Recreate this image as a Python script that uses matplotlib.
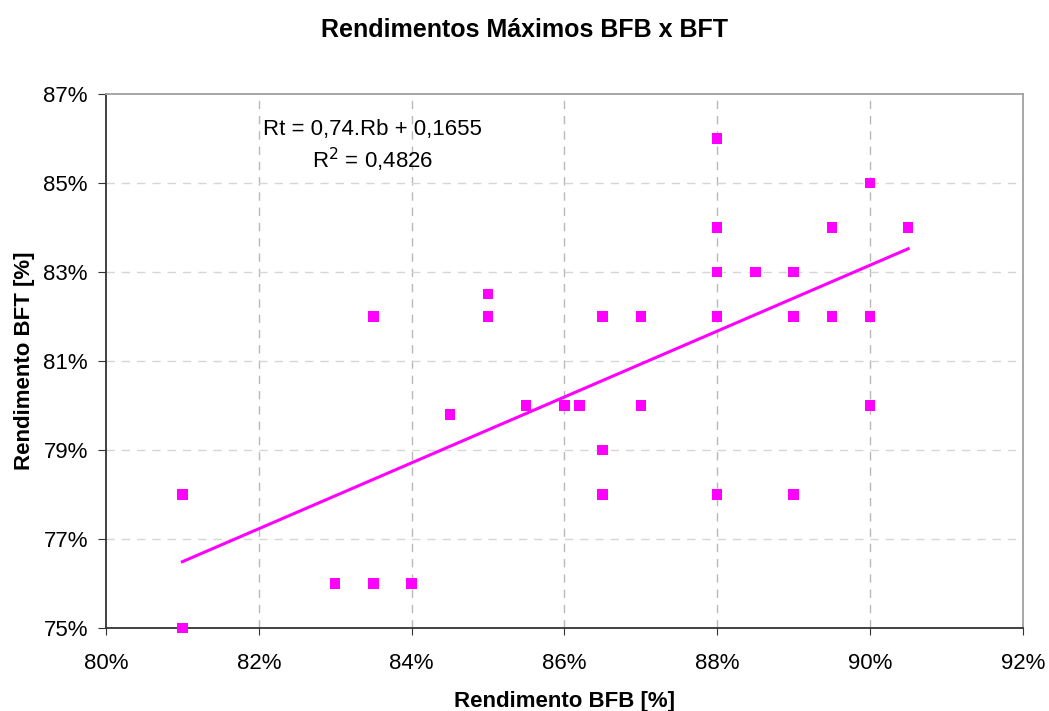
import matplotlib
matplotlib.use("Agg")
import matplotlib.pyplot as plt
import numpy as np

plt.rcParams['font.family'] = ['Liberation Sans', 'DejaVu Sans']

# Data (percent)
bfb = [81, 81, 83, 83.5, 84, 83.5, 84.5, 85, 85, 85.5, 86, 86.2, 86.5, 86.5, 86.5,
       87, 87, 88, 88, 88, 88, 88, 88.5, 89, 89, 89, 89.5, 89.5, 90, 90, 90, 90.5]
bft = [78, 75, 76, 76, 76, 82, 79.8, 82.5, 82, 80, 80, 80, 82, 79, 78,
       82, 80, 86, 84, 83, 82, 78, 83, 83, 82, 78, 84, 82, 85, 82, 80, 84]
slope = 0.74
intercept = 0.1655
trend_x = [81, 90.5]
x_ticks = [80, 82, 84, 86, 88, 90, 92]
y_ticks = [75, 77, 79, 81, 83, 85, 87]

fig = plt.figure(figsize=(10.49, 7.11), dpi=100)
ax = fig.add_axes([0.101, 0.1167, 0.874, 0.7513])

ax.set_xlim(80, 92)
ax.set_ylim(75, 87)
ax.set_xticks(x_ticks)
ax.set_yticks(y_ticks)
ax.set_xticklabels([f"{t}%" for t in x_ticks])
ax.set_yticklabels([f"{t}%" for t in y_ticks])
ax.tick_params(labelsize=16, color='#333333', direction='out')
ax.tick_params(axis='x', length=5, pad=13)
ax.tick_params(axis='y', length=6, pad=7)

# grid
for t in x_ticks[1:-1]:
    ax.axvline(t, color='#b8b8b8', lw=1, ls=(0, (6, 5)), zorder=0)
for t in y_ticks[1:-1]:
    ax.axhline(t, color='#d6d6d6', lw=1, ls=(0, (6, 5)), zorder=0)

ax.spines['left'].set_color('#333333')
ax.spines['bottom'].set_color('#333333')
ax.spines['top'].set_color('#a0a0a0')
ax.spines['right'].set_color('#a0a0a0')
for s in ax.spines.values():
    s.set_linewidth(1.3)

tx = np.array(trend_x)
ty = slope * tx / 100 + intercept
ax.plot(tx, ty * 100, color='#ff00ff', lw=2.2, zorder=2)

ax.scatter(bfb, bft, marker='s', s=55, color='#ff00ff', edgecolors='none', zorder=3, clip_on=False)

ax.text(83.49, 86.19, "Rt = 0,74.Rb + 0,1655", ha='center', va='center', fontsize=16)
ax.text(83.49, 85.52, "R$^2$ = 0,4826", ha='center', va='center', fontsize=16)

ax.set_xlabel("Rendimento BFB [%]", fontsize=16, fontweight='bold', labelpad=12)
ax.set_ylabel("Rendimento BFT [%]", fontsize=16, fontweight='bold', labelpad=6)
fig.text(0.5, 0.958, "Rendimentos Máximos BFB x BFT", ha='center', va='center',
         fontsize=18, fontweight='bold')

fig.savefig("out.png", dpi=100)
